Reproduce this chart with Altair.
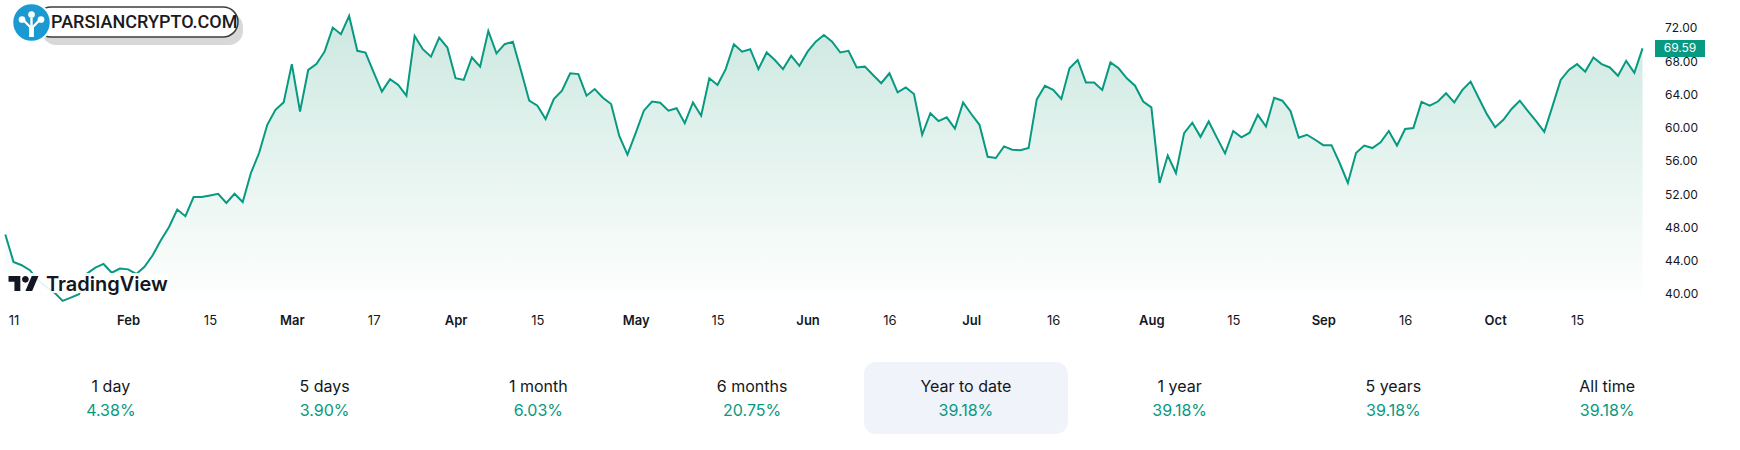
import altair as alt
import pandas as pd

# Daily closing prices, one per trading bar (first bar sits just left of the "11" tick)
closes = [
    47.2,
    43.9, 43.5, 42.9, 41.7, 40.9, 40.2, 39.2, 39.6, 40.0, 42.5,
    43.2, 43.65, 42.6, 43.1, 43.0, 42.45, 43.3, 44.7, 46.5, 48.1,
    50.2, 49.4, 51.7, 51.7, 51.9, 52.1, 51.0, 52.1, 51.1, 54.6,
    57.0, 60.4, 62.2, 63.1, 67.7, 62.0, 67.0, 67.7, 69.2, 72.1,
    71.3, 73.5, 69.3, 69.1, 66.7, 64.4, 65.9, 65.2, 63.9, 71.1,
    69.5, 68.6, 70.9, 69.7, 66.0, 65.8, 68.5, 67.4, 71.7, 69.0,
    70.1, 70.4, 66.9, 63.3, 62.7, 61.1, 63.5, 64.5, 66.6, 66.5,
    63.9, 64.7, 63.65, 62.9, 59.05, 56.8, 59.4, 62.1, 63.2, 63.05,
    62.1, 62.4, 60.6, 63.1, 61.5, 66.0, 65.2, 67.1, 70.1, 69.2,
    69.5, 67.1, 69.1, 68.2, 67.1, 68.7, 67.5, 69.2, 70.4, 71.2,
    70.4, 69.1, 69.3, 67.3, 67.4, 66.4, 65.4, 66.6, 64.3, 64.9,
    64.1, 59.2, 61.8, 60.85, 61.3, 59.95, 63.1, 61.7, 60.4, 56.55,
    56.4, 57.8, 57.4, 57.35, 57.6, 63.45, 65.1, 64.6, 63.5, 67.2,
    68.2, 65.5, 65.5, 64.6, 67.9, 67.2, 66.0, 65.1, 63.2, 62.5,
    53.4, 56.7, 54.6, 59.4, 60.65, 58.95, 60.8, 58.85, 56.96, 59.65,
    58.9, 59.45, 61.6, 60.2, 63.65, 63.3, 62.05, 58.85, 59.2, 58.6,
    57.95, 57.95, 55.8, 53.4, 57.0, 57.9, 57.6, 58.3, 59.65, 57.9,
    59.9, 60.0, 63.15, 62.7, 63.2, 64.2, 63.1, 64.6, 65.6, 63.6,
    61.65, 60.1, 61.0, 62.3, 63.3, 62.05, 60.85, 59.55, 62.65, 65.8,
    67.0, 67.7, 66.8, 68.5, 67.7, 67.3, 66.3, 68.1, 66.67, 69.59,
]
first_bar = -1

# Time axis: bar index of each labelled date and its label
tick_bars = [0, 14, 24, 34, 44, 54, 64, 76, 86, 97, 107, 117, 127, 139, 149, 160, 170, 181, 191]
tick_text = ["11", "Feb", "15", "Mar", "17", "Apr", "15", "May", "15", "Jun",
             "16", "Jul", "16", "Aug", "15", "Sep", "16", "Oct", "15"]

# Price scale labels
price_ticks = [40, 44, 48, 52, 56, 60, 64, 68, 72]

# Performance summary row
periods = ["1 day", "5 days", "1 month", "6 months", "Year to date", "1 year", "5 years", "All time"]
changes = [4.38, 3.90, 6.03, 20.75, 39.18, 39.18, 39.18, 39.18]
selected_period = "Year to date"

W, H = 1650, 305
X_DOMAIN = [-1.649, 199.91]
Y_DOMAIN = [38.71, 75.42]
GREEN = "#089981"
INK = "#131722"
FONT = "Inter"

price = pd.DataFrame({"bar": list(range(first_bar, first_bar + len(closes))), "close": closes})
last = price.tail(1)
scale_labels = pd.DataFrame({"tick": price_ticks})

labels_js = "[" + ",".join("'%s'" % t for t in tick_text) + "]"
bars_js = "[" + ",".join(str(b) for b in tick_bars) + "]"
month_bars_js = "[" + ",".join(str(b) for b, t in zip(tick_bars, tick_text) if t.isalpha()) + "]"

x_enc = alt.X(
    "bar:Q",
    scale=alt.Scale(domain=X_DOMAIN, nice=False, zero=False),
    axis=alt.Axis(
        values=tick_bars,
        labelExpr=f"{labels_js}[indexof({bars_js}, datum.value)]",
        labelFontWeight={"condition": {"test": f"indexof({month_bars_js}, datum.value) >= 0", "value": 600},
                         "value": 400},
        labelFont=FONT, labelFontSize=13, labelColor=INK,
        labelPadding=9, labelOverlap=False, labelFlush=False,
        domain=False, ticks=False, grid=False, title=None, zindex=1,
    ),
)
y_scale = alt.Scale(domain=Y_DOMAIN, nice=False, zero=False)

fill = alt.Gradient(
    gradient="linear",
    stops=[alt.GradientStop(color="#ffffff", offset=0),
           alt.GradientStop(color="#cce8e0", offset=1)],
    x1=1, x2=1, y1=1, y2=0,
)

area = alt.Chart(price).mark_area(color=fill).encode(
    x=x_enc, y=alt.Y("close:Q", stack=None, scale=y_scale, axis=None), y2=alt.value(H))
line = alt.Chart(price).mark_line(color=GREEN, strokeWidth=2).encode(
    x="bar:Q", y=alt.Y("close:Q", axis=None))

# Price scale on the right, drawn from the same y scale
scale_text = alt.Chart(scale_labels).mark_text(
    font=FONT, fontSize=12, color=INK, align="left", baseline="middle").encode(
    x=alt.value(1665), y=alt.Y("tick:Q", axis=None), text=alt.Text("tick:Q", format=".2f"))

# Last-price tag on the price scale
tag_shape = "M-1,-0.34 L1,-0.34 L1,0.34 L-1,0.34 Z"
tag = alt.Chart(last).mark_point(shape=tag_shape, size=2500, filled=True, color=GREEN, opacity=1).encode(
    x=alt.value(1680), y=alt.Y("close:Q", axis=None))
tag_text = alt.Chart(last).mark_text(color="white", font=FONT, fontSize=12).encode(
    x=alt.value(1680), y=alt.Y("close:Q", axis=None), text=alt.Text("close:Q", format=".2f"))

price_layer = alt.layer(area, line, scale_text, tag, tag_text)

one = pd.DataFrame({"k": [0]})

# TradingView watermark
tv_glyph = ("M-0.2083,0.5 L-0.5972,0.5 L-0.5972,-0.1111 L-0.9861,-0.1111 L-0.9861,-0.5 L-0.2083,-0.5 Z "
            "M-0.0972,-0.2778 A0.2222,0.2222 0 1,0 0.3472,-0.2778 A0.2222,0.2222 0 1,0 -0.0972,-0.2778 Z "
            "M0.5694,0.5 L0.125,0.5 L0.5417,-0.5 L0.9861,-0.5 Z")
tv_backdrop = alt.Chart(one).mark_rect(color="white", opacity=0.9).encode(
    x=alt.value(6), x2=alt.value(168), y=alt.value(273), y2=alt.value(293))
tv_logo = alt.Chart(one).mark_point(shape=tv_glyph, size=925, filled=True, color=INK, opacity=1).encode(
    x=alt.value(23.5), y=alt.value(283.5))
tv_text = alt.Chart(one).mark_text(text="TradingView", font=FONT, fontSize=20, fontWeight=600,
                                   color=INK, align="left", baseline="alphabetic").encode(
    x=alt.value(46), y=alt.value(291))

# Site badge, top left
badge_shadow = alt.Chart(one).mark_rect(cornerRadius=14, color="#8f8f8f", opacity=0.35).encode(
    x=alt.value(42), x2=alt.value(243), y=alt.value(13), y2=alt.value(45))
badge_pill = alt.Chart(one).mark_rect(cornerRadius=15, fill="white", stroke="#3c3c3c", strokeWidth=1.5).encode(
    x=alt.value(36), x2=alt.value(238), y=alt.value(7), y2=alt.value(37))
badge_circle = alt.Chart(one).mark_point(shape="circle", size=1480, filled=True, color="#1a9ad0",
                                         stroke="white", strokeWidth=2, opacity=1).encode(
    x=alt.value(31.5), y=alt.value(22.5))
tree_shape = ("M-0.2,1 L-0.2,0.2 L-0.7,-0.3 L-0.55,-0.42 L-0.1,0.05 L-0.1,-0.6 L0.1,-0.6 "
              "L0.1,0.05 L0.55,-0.42 L0.7,-0.3 L0.2,0.2 L0.2,1 Z")
badge_tree = alt.Chart(one).mark_point(shape=tree_shape, size=576, filled=True, color="white", opacity=1).encode(
    x=alt.value(31.5), y=alt.value(25))
dots = pd.DataFrame({"px": [22, 31.5, 41], "py": [19.5, 14.5, 19.5]})
badge_dots = alt.Chart(dots).mark_point(shape="circle", size=45, filled=True, color="white", opacity=1).encode(
    x=alt.X("px:Q", scale=None, axis=None), y=alt.Y("py:Q", scale=None, axis=None))
badge_text = alt.Chart(one).mark_text(text="PARSIANCRYPTO.COM", font="Roboto", fontSize=18, fontWeight=500,
                                      color="#1b1b1b", align="left", baseline="middle").encode(
    x=alt.value(51), y=alt.value(23))

# Performance summary row
stats = pd.DataFrame({
    "period": periods,
    "pct": ["%.2f%%" % c for c in changes],
})
sx = alt.X("period:N", sort=periods, scale=alt.Scale(range=[4, 1714], paddingInner=0, paddingOuter=0), axis=None)
highlight = alt.Chart(stats).transform_filter(alt.datum.period == selected_period).mark_bar(
    color="#f0f3fa", cornerRadius=12, width=204).encode(x=sx, y=alt.value(362), y2=alt.value(434))
stat_label = alt.Chart(stats).mark_text(font=FONT, fontSize=16, color=INK, baseline="middle").encode(
    x=sx, y=alt.value(387), text="period:N")
stat_value = alt.Chart(stats).mark_text(font=FONT, fontSize=16, color=GREEN, baseline="middle").encode(
    x=sx, y=alt.value(411), text="pct:N")

stats_layer = alt.layer(highlight, stat_label, stat_value)
marks_layer = alt.layer(tv_backdrop, tv_logo, tv_text, badge_shadow, badge_pill, badge_circle,
                        badge_tree, badge_dots, badge_text)

chart = alt.layer(price_layer, stats_layer, marks_layer).resolve_scale(x="independent", y="independent").properties(
    width=W, height=H,
    padding={"left": 0, "top": 0, "right": 90, "bottom": 145},
    autosize=alt.AutoSizeParams(type="none"),
    background="white",
).configure_view(stroke=None)

chart.save("out.html", embed_options={"renderer": "svg", "actions": False})
